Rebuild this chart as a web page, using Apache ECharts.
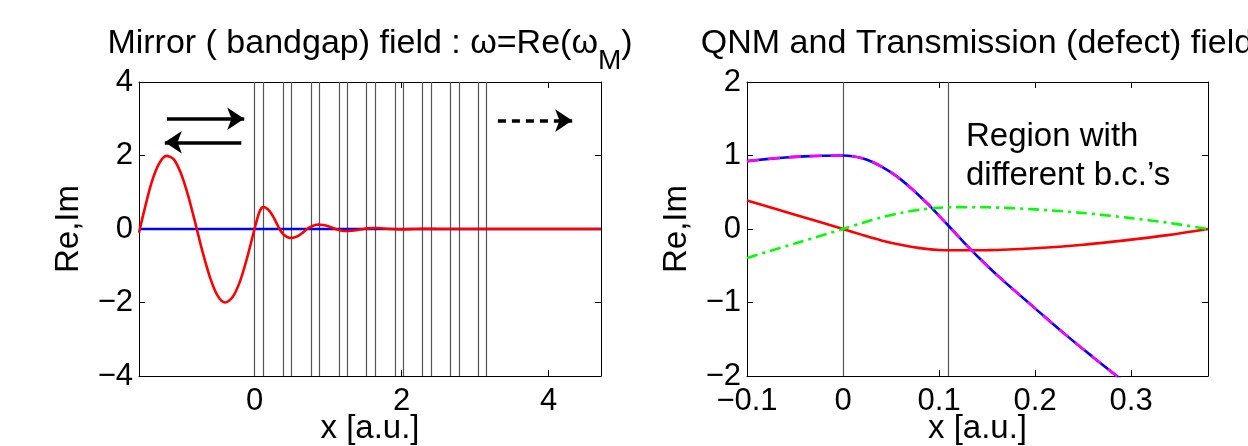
<!DOCTYPE html>
<html>
<head>
<meta charset="utf-8">
<title>Mirror and QNM fields</title>
<script src="https://cdn.jsdelivr.net/npm/echarts@6/dist/echarts.min.js"></script>
<style>
  html, body { margin: 0; padding: 0; background: #fff; }
  #main { width: 1248px; height: 446px; }
</style>
</head>
<body>
<div id="main"></div>
<script>
// left panel: mirror (bandgap) field
var mirrorX = [-1.571, -1.5, -1.4, -1.3, -1.2, -1.1, -1.0, -0.9, -0.8, -0.7, -0.6, -0.5, -0.4, -0.3, -0.2, -0.1, 0,
  0.03, 0.06, 0.09, 0.115, 0.16, 0.2, 0.25, 0.3, 0.34, 0.386, 0.43, 0.46, 0.496, 0.55, 0.6, 0.65, 0.714,
  0.76, 0.8, 0.84, 0.873, 0.93, 0.98, 1.04, 1.1, 1.15, 1.2, 1.25, 1.32, 1.4, 1.48, 1.55, 1.63, 1.75, 1.86,
  2.0, 2.2, 2.4, 2.7, 3.2, 4.0, 4.712]
var mirrorRe = [-0.1, 0.5, 1.26, 1.77, 1.99, 1.9, 1.51, 0.89, 0.12, -0.67, -1.35, -1.82, -2.0, -1.86, -1.44, -0.78, 0,
  0.23, 0.43, 0.56, 0.6, 0.57, 0.5, 0.35, 0.16, 0, -0.13, -0.2, -0.232, -0.245, -0.227, -0.18, -0.11, 0,
  0.053, 0.09, 0.114, 0.12, 0.11, 0.089, 0.048, 0, -0.027, -0.046, -0.055, -0.045, -0.025, 0, 0.017, 0.027, 0.015, 0,
  -0.01, 0, 0.004, 0, 0, 0, 0]
var mirrorImX = [-1.571, 4.712]
var mirrorIm = [0, 0]
var layerEdges = [0, 0.118, 0.386, 0.5, 0.768, 0.882, 1.146, 1.264, 1.523, 1.636,
  1.905, 2.018, 2.282, 2.395, 2.659, 2.777, 3.041, 3.155]
var incidentArrow = [[-1.19, 3], [-0.14, 3]]
var reflectedArrow = [[-0.18, 2.36], [-1.22, 2.36]]
var transmittedArrow = [[3.31, 2.95], [4.32, 2.95]]
var mirrorXTicks = [0, 2, 4]

// right panel: QNM and transmission (defect) field
var fieldX = [-0.1, -0.08, -0.06, -0.04, -0.02, 0, 0.01, 0.02, 0.03, 0.04, 0.05, 0.06, 0.07, 0.08, 0.09, 0.1,
  0.113, 0.13, 0.15, 0.17, 0.2, 0.23, 0.26, 0.285, 0.3]
var qnmRe = [0.924, 0.951, 0.973, 0.988, 0.997, 1, 0.99, 0.962, 0.915, 0.85, 0.77, 0.675, 0.565, 0.445, 0.32, 0.18,
  0, -0.24, -0.5, -0.74, -1.08, -1.42, -1.74, -2.0, -2.15]
var defectX = [-0.1, -0.05, 0, 0.02, 0.04, 0.06, 0.08, 0.1, 0.113, 0.15, 0.2, 0.25, 0.3, 0.34, 0.38]
var defectRe = [0.388, 0.195, 0, -0.08, -0.155, -0.215, -0.26, -0.285, -0.29, -0.288, -0.262, -0.215, -0.145, -0.08, 0]
var defectIm = [-0.393, -0.197, 0, 0.082, 0.158, 0.218, 0.263, 0.29, 0.297, 0.295, 0.267, 0.218, 0.148, 0.082, 0]
var defectEdges = [0, 0.113]
var defectXTicks = [-0.1, 0, 0.1, 0.2, 0.3]

var FONT = 'Liberation Sans, Arial, Helvetica, sans-serif'

function pairs(xs, ys) {
  return xs.map(function (x, i) { return [x, ys[i]] })
}
function minus(v) {
  return String(v).replace('-', '\u2212')
}

/** box axes: labelled bottom/left, bare top/right, ticks inside */
function xAxes(grid, min, max, ticks, name) {
  var base = {
    type: 'value', gridIndex: grid, min: min, max: max,
    axisLine: { onZero: false, lineStyle: { color: '#000', width: 1 } },
    axisTick: { inside: true, length: 6, customValues: ticks, lineStyle: { color: '#000' } },
    splitLine: { show: false }
  }
  return [
    Object.assign({}, base, {
      position: 'bottom', name: name, nameLocation: 'middle', nameGap: 36, nameMoveOverlap: false,
      nameTextStyle: { fontSize: 33, color: '#000', fontFamily: FONT },
      axisLabel: { customValues: ticks, margin: 10, fontSize: 31, color: '#000', fontFamily: FONT, formatter: minus }
    }),
    Object.assign({}, base, { position: 'top', axisLabel: { show: false } })
  ]
}
function yAxes(grid, min, max, interval, name) {
  var base = {
    type: 'value', gridIndex: grid, min: min, max: max, interval: interval,
    axisLine: { onZero: false, lineStyle: { color: '#000', width: 1 } },
    axisTick: { inside: true, length: 6, lineStyle: { color: '#000' } },
    splitLine: { show: false }
  }
  return [
    Object.assign({}, base, {
      position: 'left', name: name, nameLocation: 'middle', nameGap: 54,
      nameTextStyle: { fontSize: 33, color: '#000', fontFamily: FONT },
      axisLabel: { margin: 6, fontSize: 31, color: '#000', fontFamily: FONT, formatter: minus }
    }),
    Object.assign({}, base, { position: 'right', axisLabel: { show: false } })
  ]
}

function curve(xi, yi, data, color, type, z) {
  return {
    type: 'line', xAxisIndex: xi, yAxisIndex: yi, data: data, z: z,
    showSymbol: false, symbol: 'none', smooth: 0.3, silent: true,
    lineStyle: { color: color, width: 2.6, type: type }
  }
}
function edges(xi, yi, list) {
  return {
    type: 'line', xAxisIndex: xi, yAxisIndex: yi, data: [], silent: true,
    markLine: {
      z: 1, silent: true, symbol: 'none', label: { show: false },
      lineStyle: { color: '#555', width: 1.2, type: 'solid' },
      data: list.map(function (v) { return { xAxis: v } })
    }
  }
}
function arrow(a, dashed) {
  return [
    { coord: a[0], lineStyle: { color: '#000', width: 3.5, type: dashed ? [8, 6] : 'solid' } },
    { coord: a[1] }
  ]
}

var chart = echarts.init(document.getElementById('main'))

var option = {
  animation: false,
  backgroundColor: '#fff',
  grid: [
    { left: 139, top: 82, width: 462, height: 294, outerBoundsMode: 'none', containLabel: false },
    { left: 747, top: 82, width: 461, height: 294, outerBoundsMode: 'none', containLabel: false }
  ],
  xAxis: xAxes(0, -1.571, 4.712, mirrorXTicks, 'x [a.u.]')
    .concat(xAxes(1, -0.1, 0.38, defectXTicks, 'x [a.u.]')),
  yAxis: yAxes(0, -4, 4, 2, 'Re,Im').concat(yAxes(1, -2, 2, 1, 'Re,Im')),
  graphic: [
    {
      type: 'text', silent: true,
      style: {
        x: 370, y: 51, align: 'center', verticalAlign: 'middle', fill: '#000',
        text: '{n|Mirror ( bandgap) field : \u03c9=Re(\u03c9}{s|M}{n|)}',
        rich: {
          n: { fontSize: 34, fontFamily: FONT, verticalAlign: 'bottom', padding: [0, 0, 14, 0] },
          s: { fontSize: 28, fontFamily: FONT, verticalAlign: 'bottom' }
        }
      }
    },
    {
      type: 'text', silent: true,
      style: { x: 977, y: 44, align: 'center', verticalAlign: 'middle', fill: '#000',
        text: 'QNM and Transmission (defect) field', font: '34px ' + FONT }
    },
    {
      type: 'text', silent: true,
      style: { x: 966, y: 137, align: 'left', verticalAlign: 'middle', fill: '#000',
        text: 'Region with', font: '33px ' + FONT }
    },
    {
      type: 'text', silent: true,
      style: { x: 966, y: 176, align: 'left', verticalAlign: 'middle', fill: '#000',
        text: 'different b.c.\u2019s', font: '33px ' + FONT }
    }
  ],
  series: [
    edges(0, 0, layerEdges),
    curve(0, 0, pairs(mirrorImX, mirrorIm), '#0000ff', 'solid', 3),
    curve(0, 0, pairs(mirrorX, mirrorRe), '#ff0000', 'solid', 4),
    {
      type: 'line', xAxisIndex: 0, yAxisIndex: 0, data: [], silent: true,
      markLine: {
        silent: true, symbol: ['none', 'arrow'], symbolSize: 17, label: { show: false },
        data: [arrow(incidentArrow), arrow(reflectedArrow), arrow(transmittedArrow, true)]
      }
    },
    edges(2, 2, defectEdges),
    curve(2, 2, pairs(fieldX, qnmRe), '#0000ff', 'solid', 3),
    curve(2, 2, pairs(fieldX, qnmRe), '#ff00ff', [12, 9], 4),
    curve(2, 2, pairs(defectX, defectRe), '#ff0000', 'solid', 3),
    curve(2, 2, pairs(defectX, defectIm), '#00ff00', [11, 5, 3, 5], 3)
  ]
}

chart.setOption(option, true)
</script>
</body>
</html>
